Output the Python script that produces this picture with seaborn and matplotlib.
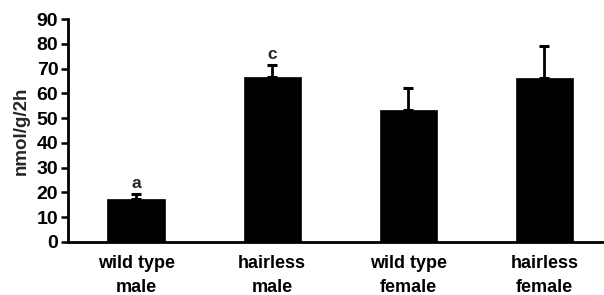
import matplotlib
matplotlib.use("Agg")
import matplotlib.pyplot as plt
import seaborn as sns
import numpy as np
import pandas as pd

categories = ["wild type\nmale", "hairless\nmale", "wild type\nfemale", "hairless\nfemale"]
means = [17.3, 66.4, 53.3, 66.3]
errors = [1.9, 5.0, 8.7, 12.9]
letters = ["a", "c", "", ""]
yticks = [0, 10, 20, 30, 40, 50, 60, 70, 80, 90]

sns.set_theme(style="ticks")
plt.rcParams["font.family"] = ["Liberation Sans", "DejaVu Sans"]
plt.rcParams["font.weight"] = "bold"

fig = plt.figure(figsize=(6.04, 2.95), dpi=100)
ax = fig.add_axes([68/604, 53/295, 535/604, 223/295])

df = pd.DataFrame({"group": categories, "value": means})
sns.barplot(data=df, x="group", y="value", color="black", width=0.42,
            edgecolor="black", linewidth=0.5, saturation=1, ax=ax, errorbar=None)

x = np.arange(len(categories))
ax.errorbar(x, means, yerr=[np.zeros(len(errors)), errors], fmt="none",
            ecolor="black", elinewidth=2, capsize=3.5, capthick=2.2, zorder=3)

for xi, m, e, l in zip(x, means, errors, letters):
    if l:
        ax.text(xi, m + e + 2.5, l, ha="center", va="baseline",
                fontsize=12.5, fontweight="bold")

ax.set_ylim(0, 90)
ax.set_xlim(-0.5, 3.43)
ax.set_yticks(yticks)
ax.set_yticklabels([str(v) for v in yticks], fontsize=14, fontweight="bold")
ax.set_xticks(x)
ax.set_xticklabels(categories, fontsize=13, fontweight="bold", linespacing=1.6)
ax.tick_params(axis="y", length=5, width=1.8, pad=2, colors="black")
ax.tick_params(axis="x", length=0, pad=9, colors="black")
ax.set_xlabel("")
ax.set_ylabel("nmol/g/2h", fontsize=13.5, fontweight="bold", labelpad=5)

sns.despine(ax=ax)
for s in ["left", "bottom"]:
    ax.spines[s].set_linewidth(2)
    ax.spines[s].set_color("black")

fig.savefig("out.png", dpi=100)
